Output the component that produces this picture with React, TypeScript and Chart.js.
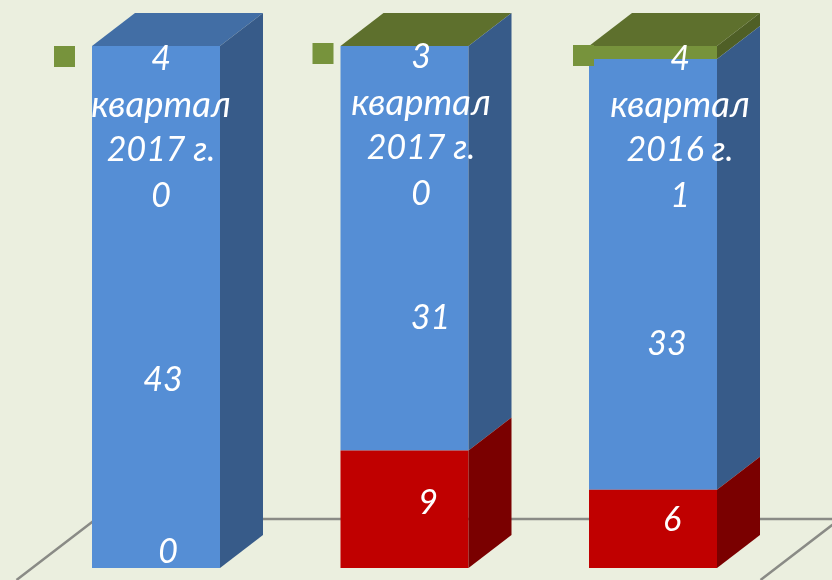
import React, { useEffect, useRef } from "react";
import { Chart, registerables } from "chart.js";

Chart.register(...registerables);

const categories = [
  ["4", "квартал", "2017 г."],
  ["3", "квартал", "2017 г."],
  ["4", "квартал", "2016 г."],
];
const seriesNames = ["Ряд красный", "Ряд синий", "Ряд зелёный"];
const redValues = [0, 9, 6];
const blueValues = [43, 31, 33];
const greenValues = [0, 0, 1];

const allValues = [redValues, blueValues, greenValues];
const totals = categories.map((_, i) => allValues.reduce((s, a) => s + a[i], 0));
const share = (arr: number[]) => arr.map((v, i) => (v * 100) / totals[i]);

const BG = "#EBEFDF";
const FRONT = ["#C00000", "#558ED5", "#77933C"];
const SIDE = ["#7A0000", "#375B89", "#4F5F26"];
const CAP = ["#426EA5", "#5E702D", "#5E702D"];
const DEPTH_X = 43;
const DEPTH_Y = 33;
const FONT = "italic 34px Lato, 'Open Sans', sans-serif";
const FONT_WIDE = "italic 36.5px Lato, 'Open Sans', sans-serif";
const LINE_H = 45.5;

// manual label offsets from each segment's centre: [dx, dy] per series per category
const OFFSETS = [
  [[12, -16], [23.5, -6.5], [19, -9]],
  [[7, 73], [26, 69.5], [14, 69.5]],
  [[5, 150], [16.5, 148], [27, 143.5]],
];
const KEY_OFFSETS = [[-38, 0], [-28, -3], [-16, -1]];
const KEY_SIZE = 21;

const bars3d = {
  id: "bars3d",
  beforeDatasetsDraw(chart: any) {
    const { ctx, chartArea: a, width, height } = chart;
    const backY = a.bottom - DEPTH_Y - 16;
    const slopeX = DEPTH_X / DEPTH_Y;
    const leftX = 96;
    const rightX = 840;
    ctx.save();
    ctx.strokeStyle = "#8A8B86";
    ctx.lineWidth = 2.5;
    ctx.beginPath();
    ctx.moveTo(leftX - (height - backY) * slopeX, height);
    ctx.lineTo(leftX, backY);
    ctx.lineTo(width + 10, backY);
    ctx.moveTo(rightX, backY);
    ctx.lineTo(rightX - (height - backY) * slopeX, height);
    ctx.stroke();
    ctx.restore();
  },
  afterDatasetsDraw(chart: any) {
    const { ctx } = chart;
    const count = categories.length;
    ctx.save();
    // 3D faces
    for (let c = 0; c < count; c++) {
      let capDone = false;
      for (let s = 2; s >= 0; s--) {
        const el = chart.getDatasetMeta(s).data[c];
        const right = el.x + el.width / 2;
        const left = el.x - el.width / 2;
        if (!capDone) {
          ctx.fillStyle = CAP[c];
          ctx.beginPath();
          ctx.moveTo(left, el.y);
          ctx.lineTo(left + DEPTH_X, el.y - DEPTH_Y);
          ctx.lineTo(right + DEPTH_X, el.y - DEPTH_Y);
          ctx.lineTo(right, el.y);
          ctx.closePath();
          ctx.fill();
          capDone = true;
        }
        if (el.base - el.y > 0) {
          ctx.fillStyle = SIDE[s];
          ctx.beginPath();
          ctx.moveTo(right, el.y);
          ctx.lineTo(right + DEPTH_X, el.y - DEPTH_Y);
          ctx.lineTo(right + DEPTH_X, el.base - DEPTH_Y);
          ctx.lineTo(right, el.base);
          ctx.closePath();
          ctx.fill();
        }
      }
    }
    // legend keys
    for (let c = 0; c < count; c++) {
      const top = chart.getDatasetMeta(2).data[c];
      const left = top.x - top.width / 2;
      const y0 = chart.scales.y.getPixelForValue(100);
      ctx.fillStyle = FRONT[2];
      ctx.fillRect(left + KEY_OFFSETS[c][0], y0 + KEY_OFFSETS[c][1], KEY_SIZE, KEY_SIZE);
    }
    // labels
    ctx.fillStyle = "#FFFFFF";
    ctx.textAlign = "center";
    ctx.textBaseline = "middle";
    for (let s = 0; s < 3; s++) {
      for (let c = 0; c < count; c++) {
        const el = chart.getDatasetMeta(s).data[c];
        const cy = (el.y + el.base) / 2;
        const x = el.x + OFFSETS[s][c][0];
        const y = cy + OFFSETS[s][c][1];
        ctx.font = FONT;
        ctx.fillText(String(allValues[s][c]), x, y);
        if (s === 2) {
          categories[c].forEach((line, i) => {
            ctx.font = i === 1 ? FONT_WIDE : FONT;
            ctx.fillText(line, x, y - LINE_H * (3 - i));
          });
        }
      }
    }
    ctx.restore();
  },
};

export default function App() {
  const ref = useRef<HTMLCanvasElement>(null);
  useEffect(() => {
    document.body.style.margin = "0";
    document.body.style.background = BG;
    const chart = new Chart(ref.current as HTMLCanvasElement, {
      type: "bar",
      data: {
        labels: categories.map((l) => l.join(" ")),
        datasets: [redValues, blueValues, greenValues].map((v, i) => ({
          label: seriesNames[i],
          data: share(v),
          backgroundColor: FRONT[i],
          borderWidth: 0,
          barPercentage: 128 / 248.5,
          categoryPercentage: 1,
        })),
      },
      options: {
        animation: false,
        responsive: false,
        layout: { padding: { left: 31.75, right: 54.75, top: 46, bottom: 12 } },
        plugins: { legend: { display: false }, tooltip: { enabled: false } },
        scales: {
          x: { stacked: true, display: false },
          y: { stacked: true, display: false, min: 0, max: 100 },
        },
      },
      plugins: [bars3d],
    } as any);
    return () => chart.destroy();
  }, []);
  return (
    <div style={{ width: 832, height: 580, background: BG, overflow: "hidden" }}>
      <canvas ref={ref} width={832} height={580} style={{ display: "block" }} />
    </div>
  );
}
